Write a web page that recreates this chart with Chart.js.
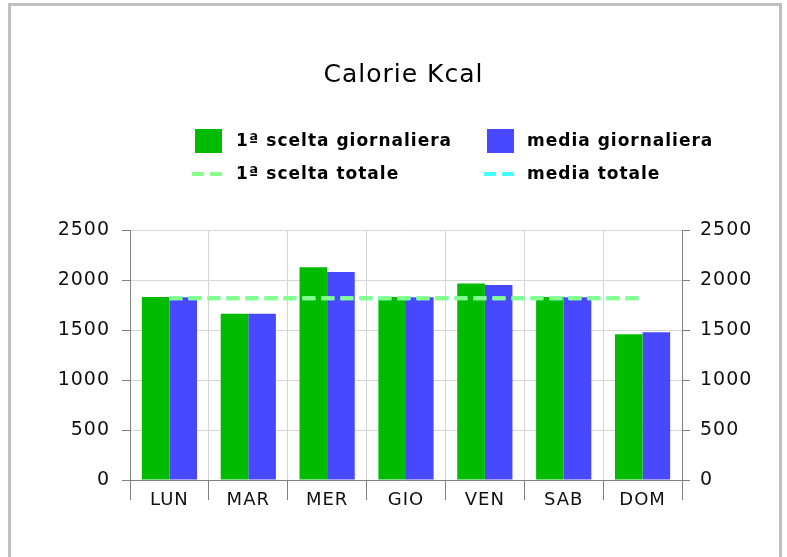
<!DOCTYPE html>
<html><head><meta charset="utf-8">
<script src="https://cdn.jsdelivr.net/npm/chart.js@4.4.1/dist/chart.umd.min.js"></script>
<style>
html,body{margin:0;padding:0;background:#fff;}
#wrap{position:relative;width:787px;height:557px;overflow:hidden;}
#frame{position:absolute;left:8px;top:3px;width:768px;height:600px;border:3px solid #c0c0c0;}
canvas{position:absolute;left:0;top:0;}
</style></head><body>
<div id="wrap"><div id="frame"></div><canvas id="c" width="787" height="557"></canvas></div>
<script>
const categories = ['LUN','MAR','MER','GIO','VEN','SAB','DOM'];
const sceltaGiornaliera = [1833,1667,2133,1833,1970,1833,1460];
const mediaGiornaliera = [1830,1667,2083,1830,1953,1830,1480];
const sceltaTotale = [1820,1820,1820,1820,1820,1820,1820];
const mediaTotale = [1820,1820,1820,1820,1820,1820,1820];
const yTicks = [0,500,1000,1500,2000,2500];
const seriesNames = ['1ª scelta giornaliera','media giornaliera','1ª scelta totale','media totale'];

const FONT = 'DejaVu Sans';

const spacingPlugin = {
  id:'spacing',
  beforeLayout(c){ c.ctx.letterSpacing='1px'; },
  beforeDraw(c){ c.ctx.letterSpacing='1px'; }
};

const legendPlugin = {
  id:'customLegend',
  afterDraw(c){
    const ctx = c.ctx;
    const ds = c.data.datasets;
    ctx.save();
    ctx.letterSpacing='1px';
    ctx.font = 'bold 17px "'+FONT+'"';
    ctx.fillStyle = '#000';
    ctx.textBaseline = 'middle';
    ctx.textAlign = 'left';
    const items = [
      {i:0, x:195, y:141, tx:236},
      {i:1, x:487, y:141, tx:527},
      {i:2, x:192, y:174, tx:236},
      {i:3, x:484, y:174, tx:527}
    ];
    items.forEach(it=>{
      const d = ds[it.i];
      if (d.type === 'line') {
        ctx.save();
        ctx.strokeStyle = d.borderColor;
        ctx.lineWidth = 4;
        ctx.setLineDash([12,6]);
        ctx.beginPath();
        ctx.moveTo(it.x, it.y);
        ctx.lineTo(it.x+31, it.y);
        ctx.stroke();
        ctx.restore();
      } else {
        ctx.fillStyle = d.backgroundColor;
        ctx.fillRect(it.x, 129, 27, 24);
      }
      ctx.fillStyle = '#000';
      ctx.fillText(d.label, it.tx, it.y+1);
    });
    ctx.restore();
  }
};

new Chart(document.getElementById('c'), {
  data: {
    labels: categories,
    datasets: [
      {type:'bar', label:seriesNames[0], data:sceltaGiornaliera, backgroundColor:'#00bb00', borderWidth:0, order:3, yAxisID:'y'},
      {type:'bar', label:seriesNames[1], data:mediaGiornaliera, backgroundColor:'#4848ff', borderWidth:0, order:3, yAxisID:'y'},
      {type:'line', label:seriesNames[2], data:sceltaTotale, borderColor:'#88ff88', borderWidth:4, borderDash:[13,6], borderCapStyle:'butt', pointRadius:0, fill:false, order:0, yAxisID:'y'},
      {type:'line', label:seriesNames[3], data:mediaTotale, borderColor:'#44ffff', borderWidth:4, borderDash:[13,6], borderCapStyle:'butt', pointRadius:0, fill:false, order:1, yAxisID:'y'}
    ]
  },
  options: {
    responsive:false,
    animation:false,
    devicePixelRatio:1,
    layout:{padding:{left:20,right:0,top:0,bottom:0}},
    datasets:{bar:{categoryPercentage:0.70, barPercentage:1.0}},
    plugins:{
      legend:{display:false},
      tooltip:{enabled:false},
      title:{display:true, text:'Calorie Kcal', color:'#000', font:{family:FONT, size:25, weight:'normal'}, padding:{top:60,bottom:140.5}}
    },
    scales:{
      x:{
        offset:true,
        grid:{color:'#d6d6d6', tickColor:'#808080', tickLength:20, offset:true},
        border:{color:'#808080', width:1},
        ticks:{color:'#111', padding:-10, font:{family:FONT, size:18}},
        afterFit(s){ s.height = 77; }
      },
      y:{
        position:'left', min:0, max:2500,
        afterBuildTicks(s){ s.ticks = yTicks.map(v=>({value:v})); },
        grid:{color:'#d6d6d6', tickColor:'#808080', tickLength:8},
        border:{color:'#808080', width:1},
        ticks:{color:'#111', padding:12, font:{family:FONT, size:19}, callback:v=>String(v)},
        afterFit(s){ s.width = 110; }
      },
      y2:{
        position:'right', min:0, max:2500,
        afterBuildTicks(s){ s.ticks = yTicks.map(v=>({value:v})); },
        grid:{drawOnChartArea:false, tickColor:'#808080', tickLength:8},
        border:{color:'#808080', width:1},
        ticks:{color:'#111', padding:10, font:{family:FONT, size:19}, callback:v=>String(v)},
        afterFit(s){ s.width = 105; }
      }
    }
  },
  plugins:[spacingPlugin, legendPlugin]
});
</script>
</body></html>
